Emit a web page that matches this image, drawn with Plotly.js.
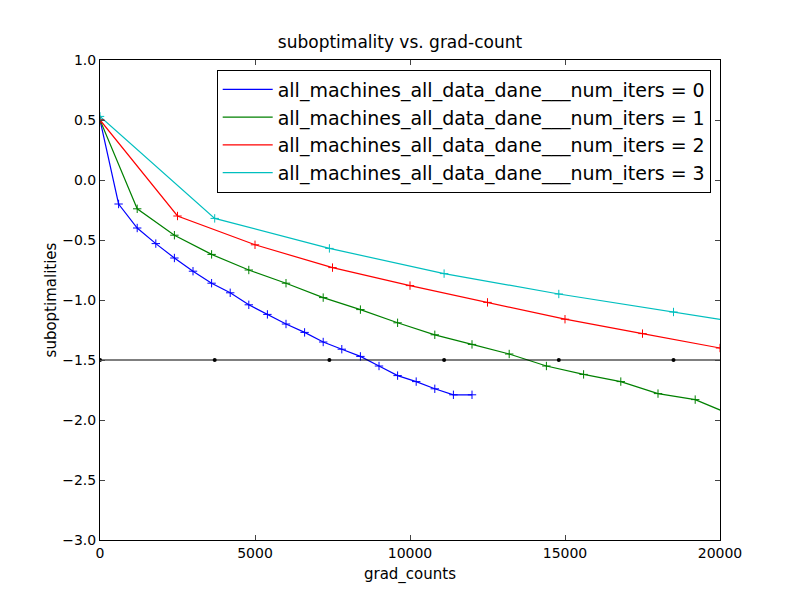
<!DOCTYPE html>
<html><head><script src="https://cdn.plot.ly/plotly-3.0.1.min.js"></script></head>
<body style="margin:0"><div id="c" style="width:800px;height:600px"></div>
<script>
const bx=[0,600,1200,1800,2400,3000,3600,4200,4800,5400,6000,6600,7200,7800,8400,9000,9600,10200,10800,11400,12000];
const by=[0.5,-0.2,-0.4,-0.53,-0.65,-0.76,-0.86,-0.94,-1.04,-1.12,-1.2,-1.27,-1.35,-1.41,-1.47,-1.55,-1.63,-1.68,-1.74,-1.79,-1.79];
const gx=[0,1200,2400,3600,4800,6000,7200,8400,9600,10800,12000,13200,14400,15600,16800,18000,19200,20400];
const gy=[0.5,-0.24,-0.46,-0.62,-0.75,-0.86,-0.98,-1.08,-1.19,-1.29,-1.37,-1.45,-1.55,-1.62,-1.68,-1.78,-1.83,-1.96];
const rx=[0,2500,5000,7500,10000,12500,15000,17500,20000];
const ry=[0.5,-0.3,-0.54,-0.73,-0.88,-1.02,-1.16,-1.28,-1.4];
const cx=[0,3700,7400,11100,14800,18500,22200];
const cy=[0.53,-0.32,-0.57,-0.78,-0.95,-1.1,-1.25];
const kx=[0,3700,7400,11100,14800,18500,22200];
const ky=[-1.5,-1.5,-1.5,-1.5,-1.5,-1.5,-1.5];
const xticks=[0,5000,10000,15000,20000];
const xtickText=['0','5000','10000','15000','20000'];
const yticks=[-3,-2.5,-2,-1.5,-1,-0.5,0,0.5,1];
const ytickText=['\u22123.0','\u22122.5','\u22122.0','\u22121.5','\u22121.0','\u22120.5','0.0','0.5','1.0'];
const names=['all_machines_all_data_dane___num_iters = 0','all_machines_all_data_dane___num_iters = 1','all_machines_all_data_dane___num_iters = 2','all_machines_all_data_dane___num_iters = 3'];
const cols=['#0000ff','#008000','#ff0000','#00bfbf'];
const sets=[[bx,by],[gx,gy],[rx,ry],[cx,cy]];
const traces=sets.map((s,i)=>({x:s[0],y:s[1],name:names[i],mode:'lines',line:{color:cols[i],width:1.2}}));
sets.forEach((s,i)=>traces.push({x:s[0],y:s[1],mode:'markers',showlegend:false,marker:{symbol:'cross-thin',size:6,line:{color:cols[i],width:1}}}));
traces.push({x:kx,y:ky,mode:'lines+markers',showlegend:false,line:{color:'black',width:1.2},marker:{color:'black',size:4}});
Plotly.newPlot('c',traces,{
 width:800,height:600,paper_bgcolor:'white',plot_bgcolor:'white',
 margin:{l:100,r:80,t:60,b:60},
 font:{family:'DejaVu Sans',color:'black',size:14},
 title:{text:'suboptimality vs. grad-count',x:0.5,y:0.94,font:{size:17}},
 xaxis:{range:[0,20000],tickvals:xticks,ticktext:xtickText,ticks:'inside',ticklen:5,showgrid:false,zeroline:false,showline:true,mirror:'ticks',linecolor:'black',title:{text:'grad_counts',font:{size:15},standoff:8}},
 yaxis:{range:[-3,1],tickvals:yticks,ticktext:ytickText,ticks:'inside',ticklen:5,showgrid:false,zeroline:false,showline:true,mirror:'ticks',linecolor:'black',title:{text:'suboptimalities',font:{size:15}}},
 legend:{x:0.985,y:0.98,xanchor:'right',yanchor:'top',bordercolor:'black',borderwidth:1,font:{size:19},bgcolor:'white',itemwidth:50,tracegroupgap:0}
},{displayModeBar:false});
</script></body></html>
